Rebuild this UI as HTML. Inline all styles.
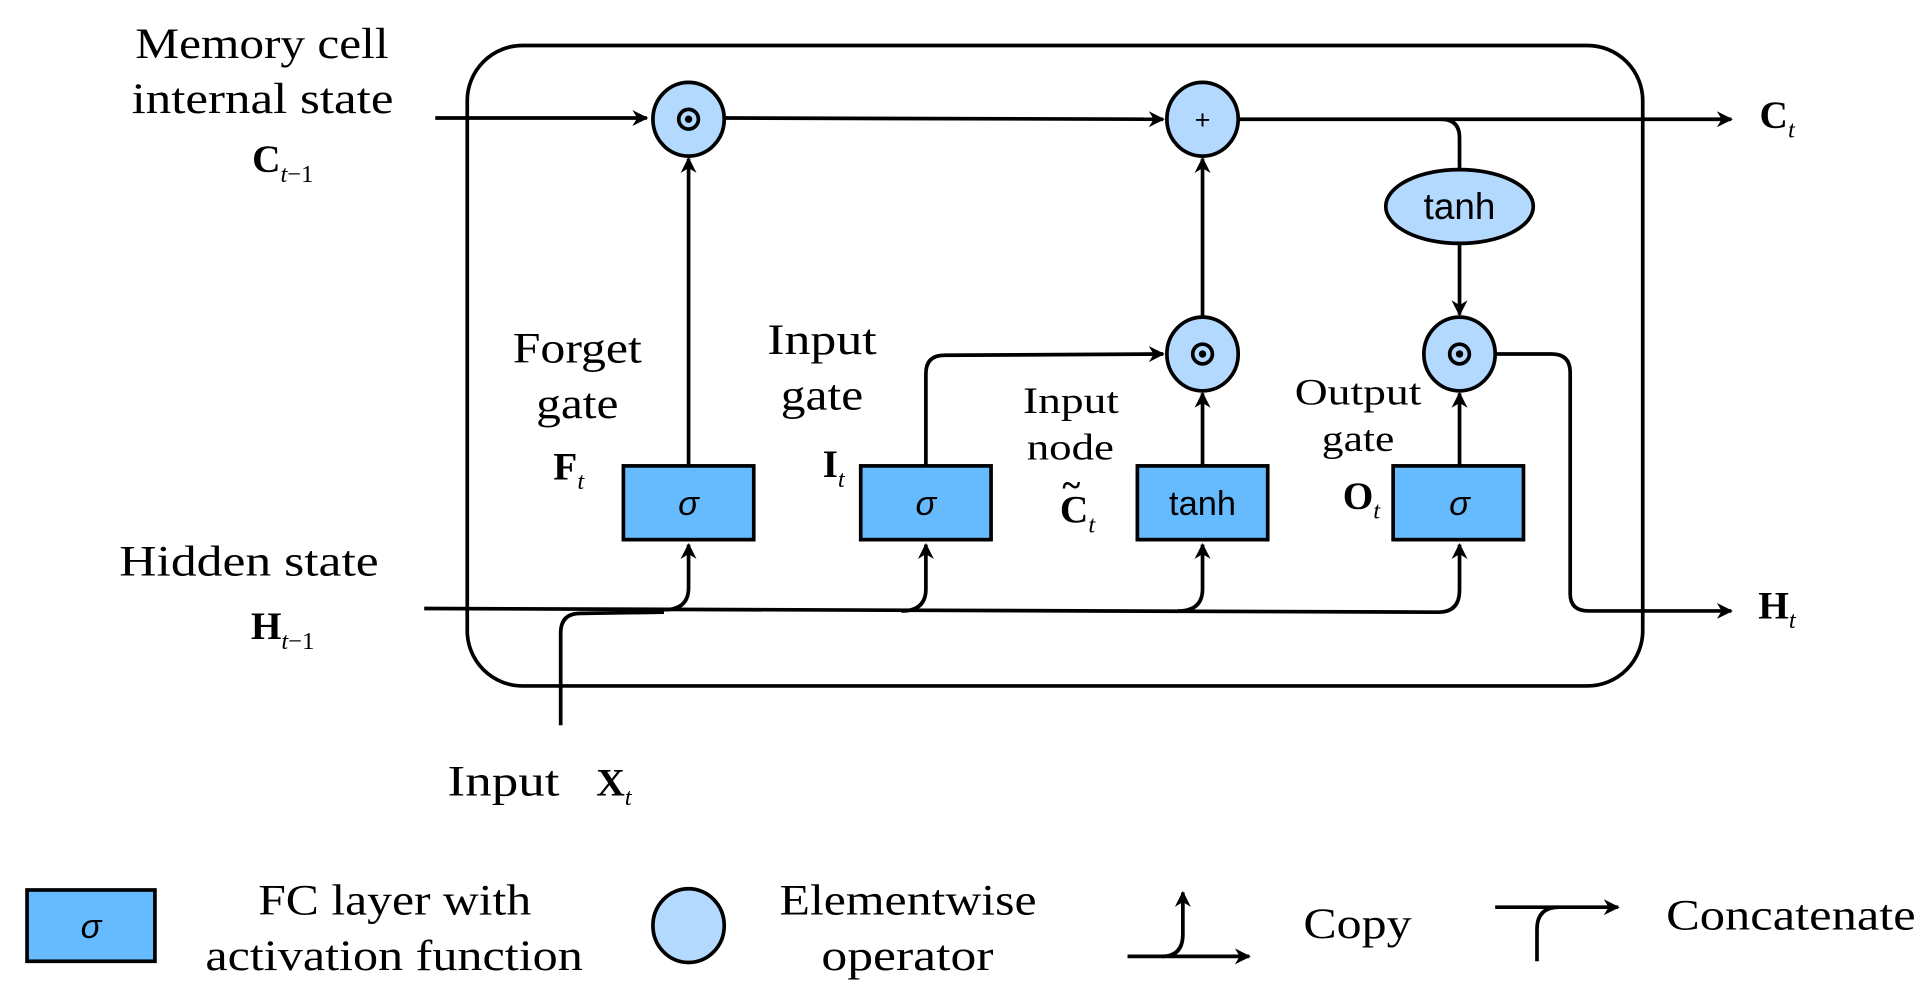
<!DOCTYPE html>
<html><head><meta charset="utf-8"><style>
html,body{margin:0;padding:0;background:#fff;}
svg{display:block;}
text{font-family:"Liberation Serif",serif;fill:#000;}
.s{font-family:"Liberation Sans",sans-serif;}
</style></head><body>
<svg width="1928" height="1008" viewBox="0 0 1568 820" preserveAspectRatio="none" xmlns="http://www.w3.org/2000/svg">
<defs>
<marker id="a" viewBox="0 0 10 10" refX="9" refY="5" markerWidth="16" markerHeight="13" orient="auto-start-reverse" markerUnits="userSpaceOnUse">
<path d="M0,0 L10,5 L0,10 L3,5 z" fill="#000"/></marker>
</defs>
<g fill="none" stroke="#000" stroke-width="3">
<rect x="380" y="37" width="956" height="521" rx="45"/>
<line x1="354" y1="96" x2="526" y2="96" marker-end="url(#a)"/>
<line x1="590" y1="96" x2="946" y2="97" marker-end="url(#a)"/>
<line x1="1008" y1="97" x2="1408" y2="97" marker-end="url(#a)"/>
<path d="M1172,97 Q1187,97 1187,112 L1187,138"/>
<line x1="1187" y1="198" x2="1187" y2="256" marker-end="url(#a)"/>
<line x1="560" y1="379" x2="560" y2="129" marker-end="url(#a)"/>
<path d="M753,379 L753,304 Q753,289 768,289 L946,288" marker-end="url(#a)"/>
<line x1="978" y1="379" x2="978" y2="320" marker-end="url(#a)"/>
<line x1="978" y1="258" x2="978" y2="129" marker-end="url(#a)"/>
<line x1="1187" y1="379" x2="1187" y2="320" marker-end="url(#a)"/>
<path d="M1217,288 L1262,288 Q1277,288 1277,303 L1277,483 Q1277,497 1292,497 L1408,497" marker-end="url(#a)"/>
<path d="M345,495 L1170,498 Q1187,498 1187,480 L1187,443" marker-end="url(#a)"/>
<path d="M540,496 Q560,496 560,478 L560,443" marker-end="url(#a)"/>
<path d="M733,497 Q753,497 753,479 L753,443" marker-end="url(#a)"/>
<path d="M958,497 Q978,497 978,479 L978,443" marker-end="url(#a)"/>
<path d="M456,590 L456,515 Q456,499 472,499 L540,498"/>
</g>
<g fill="#b3d9ff" stroke="#000" stroke-width="3">
<ellipse cx="560" cy="97" rx="29" ry="30"/>
<ellipse cx="978" cy="97" rx="29" ry="30"/>
<ellipse cx="978" cy="288" rx="29" ry="30"/>
<ellipse cx="1187" cy="288" rx="29" ry="30"/>
<ellipse cx="1187" cy="168" rx="60" ry="30"/>
<ellipse cx="560" cy="753" rx="29" ry="30"/>
</g>
<g fill="none" stroke="#000" stroke-width="3">
<circle cx="560" cy="97" r="8"/><circle cx="978" cy="288" r="8"/><circle cx="1187" cy="288" r="8"/>
</g>
<g fill="#000"><circle cx="560" cy="97" r="3"/><circle cx="978" cy="288" r="3"/><circle cx="1187" cy="288" r="3"/></g>
<text x="978" y="105" text-anchor="middle" class="s" font-size="22">+</text>
<g fill="#66bbff" stroke="#000" stroke-width="3">
<rect x="507" y="379" width="106" height="60"/>
<rect x="700" y="379" width="106" height="60"/>
<rect x="925" y="379" width="106" height="60"/>
<rect x="1133" y="379" width="106" height="60"/>
<rect x="22" y="724" width="104" height="58"/>
</g>
<g class="s" font-size="28" text-anchor="middle">
<text x="560" y="419" class="s" font-style="italic">σ</text>
<text x="753" y="419" class="s" font-style="italic">σ</text>
<text x="978" y="419" class="s">tanh</text>
<text x="1187" y="419" class="s" font-style="italic">σ</text>
<text x="1187" y="178" class="s" font-size="30">tanh</text>
<text x="74" y="763" class="s" font-style="italic">σ</text>
</g>
<g font-size="35" lengthAdjust="spacingAndGlyphs">
<text x="110" y="47" textLength="206" lengthAdjust="spacingAndGlyphs">Memory cell</text>
<text x="107" y="92" textLength="213" lengthAdjust="spacingAndGlyphs">internal state</text>
<text x="97" y="468" textLength="211" lengthAdjust="spacingAndGlyphs">Hidden state</text>
<text x="417" y="295" textLength="105" lengthAdjust="spacingAndGlyphs">Forget</text>
<text x="436" y="340" textLength="67" lengthAdjust="spacingAndGlyphs">gate</text>
<text x="624" y="288" textLength="89" lengthAdjust="spacingAndGlyphs">Input</text>
<text x="635" y="333" textLength="67" lengthAdjust="spacingAndGlyphs">gate</text>
<text x="364" y="647" textLength="91" lengthAdjust="spacingAndGlyphs">Input</text>
<text x="210" y="744" textLength="222" lengthAdjust="spacingAndGlyphs">FC layer with</text>
<text x="167" y="789" textLength="307" lengthAdjust="spacingAndGlyphs">activation function</text>
<text x="634" y="744" textLength="209" lengthAdjust="spacingAndGlyphs">Elementwise</text>
<text x="668" y="789" textLength="140" lengthAdjust="spacingAndGlyphs">operator</text>
<text x="1060" y="763" textLength="88" lengthAdjust="spacingAndGlyphs">Copy</text>
<text x="1355" y="756" textLength="203" lengthAdjust="spacingAndGlyphs">Concatenate</text>
</g>
<g font-size="30">
<text x="832" y="336" textLength="78" lengthAdjust="spacingAndGlyphs">Input</text>
<text x="835" y="374" textLength="71" lengthAdjust="spacingAndGlyphs">node</text>
<text x="1053" y="329" textLength="103" lengthAdjust="spacingAndGlyphs">Output</text>
<text x="1075" y="367" textLength="59" lengthAdjust="spacingAndGlyphs">gate</text>
</g>
<g font-size="32" font-weight="bold">
<text x="205" y="140">C<tspan font-size="20" font-weight="normal" font-style="italic" dy="8">t</tspan><tspan font-size="20" font-weight="normal">−1</tspan></text>
<text x="1431" y="104">C<tspan font-size="20" font-weight="normal" font-style="italic" dy="8">t</tspan></text>
<text x="204" y="520">H<tspan font-size="20" font-weight="normal" font-style="italic" dy="8">t</tspan><tspan font-size="20" font-weight="normal">−1</tspan></text>
<text x="1430" y="503">H<tspan font-size="20" font-weight="normal" font-style="italic" dy="8">t</tspan></text>
<text x="485" y="647">X<tspan font-size="20" font-weight="normal" font-style="italic" dy="8">t</tspan></text>
<text x="450" y="390">F<tspan font-size="20" font-weight="normal" font-style="italic" dy="8">t</tspan></text>
<text x="669" y="388">I<tspan font-size="20" font-weight="normal" font-style="italic" dy="8">t</tspan></text>
<text x="862" y="425">C<tspan font-size="20" font-weight="normal" font-style="italic" dy="8">t</tspan></text>
<text x="1092" y="414">O<tspan font-size="20" font-weight="normal" font-style="italic" dy="8">t</tspan></text>
</g>
<text x="864" y="404" font-size="28" font-weight="bold">~</text>
<g fill="none" stroke="#000" stroke-width="3">
<line x1="917" y1="778" x2="1016" y2="778" marker-end="url(#a)"/>
<path d="M945,778 Q962,778 962,760 L962,726" marker-end="url(#a)"/>
<line x1="1216" y1="738" x2="1316" y2="738" marker-end="url(#a)"/>
<path d="M1268,738 Q1250,738 1250,756 L1250,782"/>
</g>
</svg>
</body></html>
